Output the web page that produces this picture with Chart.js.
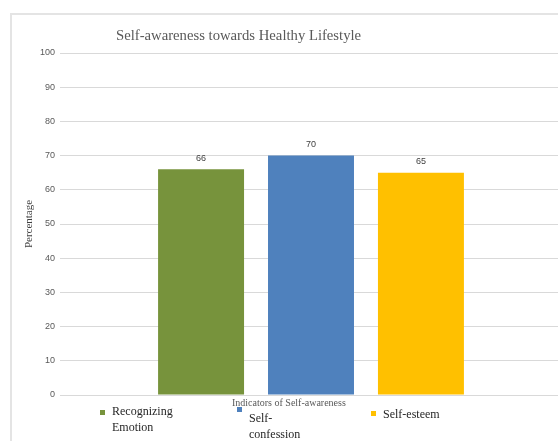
<!DOCTYPE html>
<html>
<head>
<meta charset="utf-8">
<script src="https://cdn.jsdelivr.net/npm/chart.js@4"></script>
<style>
  body { margin: 0; width: 558px; height: 441px; overflow: hidden; background: #fff; position: relative; }
  #frame { position: absolute; left: 10px; top: 13px; width: 560px; height: 440px; border-top: 2px solid #e4e4e4; border-left: 2px solid #e4e4e4; }
  #chart { position: absolute; left: 0; top: 0; }
  .txt { position: absolute; font-family: "Liberation Serif", serif; white-space: nowrap; }
  #title { left: 116px; top: 27px; font-size: 14.7px; color: #595959; }
  #xtitle { left: 232px; top: 397px; font-size: 10px; color: #595959; }
  .leg { position: absolute; font-family: "Liberation Serif", serif; font-size: 12px; color: #262626; line-height: 16px; }
  .leg span.box { position: absolute; width: 5px; height: 5px; left: 0; }
  .leg div.lbl { position: absolute; left: 12px; top: 0; white-space: nowrap; }
</style>
</head>
<body>
<div id="frame"></div>
<canvas id="chart" width="580" height="441"></canvas>
<div class="txt" id="title">Self-awareness towards Healthy Lifestyle</div>
<div class="txt" id="xtitle">Indicators of Self-awareness</div>
<div id="legend"></div>
<script>
// datos del gráfico
const categories = ['Recognizing Emotion', 'Self-confession', 'Self-esteem'];
const values = [66, 70, 65];
const yTicks = [0, 10, 20, 30, 40, 50, 60, 70, 80, 90, 100];
const barColors = ['#77933C', '#4F81BD', '#FFC000'];

// leyenda: posiciones de cada elemento (texto partido como en el original)
const legendLines = [['Recognizing', 'Emotion'], ['Self-', 'confession'], ['Self-esteem']];
const legendPos = [
  { x: 100, y: 403, boxY: 7 },
  { x: 237, y: 410, boxY: -3 },
  { x: 371, y: 406, boxY: 5 }
];
const legend = document.getElementById('legend');
categories.forEach((c, i) => {
  const item = document.createElement('div');
  item.className = 'leg';
  item.style.left = legendPos[i].x + 'px';
  item.style.top = legendPos[i].y + 'px';
  const box = document.createElement('span');
  box.className = 'box';
  box.style.background = barColors[i];
  box.style.top = legendPos[i].boxY + 'px';
  const lbl = document.createElement('div');
  lbl.className = 'lbl';
  lbl.innerHTML = legendLines[i].join('<br>');
  lbl.title = c;
  item.appendChild(box);
  item.appendChild(lbl);
  legend.appendChild(item);
});

// etiquetas de valor encima de las barras
const valueLabels = {
  id: 'valueLabels',
  afterDatasetsDraw(chart) {
    const ctx = chart.ctx;
    ctx.save();
    ctx.font = '9px "Liberation Sans", sans-serif';
    ctx.fillStyle = '#404040';
    ctx.textAlign = 'center';
    ctx.textBaseline = 'middle';
    chart.data.datasets.forEach((ds, i) => {
      chart.getDatasetMeta(i).data.forEach((bar, j) => {
        ctx.fillText(ds.data[j], bar.x, bar.y - 11);
      });
    });
    ctx.restore();
  }
};

const ctx = document.getElementById('chart').getContext('2d');
const myChart = new Chart(ctx, {
  type: 'bar',
  data: {
    labels: [''],
    datasets: categories.map((c, i) => ({
      label: c,
      data: [values[i]],
      backgroundColor: barColors[i],
      borderWidth: 0
    }))
  },
  options: {
    responsive: false,
    animation: false,
    events: [],
    categoryPercentage: 0.657,
    barPercentage: 0.782,
    layout: { padding: { left: 18, top: 53, right: 18, bottom: 46 } },
    plugins: {
      legend: { display: false },
      title: { display: false },
      tooltip: { enabled: false }
    },
    scales: {
      x: { display: false },
      y: {
        min: yTicks[0],
        max: yTicks[yTicks.length - 1],
        afterFit(scale) { scale.width = 42; },
        afterBuildTicks(scale) { scale.ticks = yTicks.map(v => ({ value: v })); },
        ticks: {
          padding: 5,
          color: '#595959',
          font: { family: '"Liberation Sans", sans-serif', size: 9 }
        },
        grid: { color: '#d9d9d9', lineWidth: 1, drawTicks: false },
        border: { display: false },
        title: {
          display: true,
          text: 'Percentage',
          color: '#404040',
          padding: { top: 5, bottom: 0 },
          font: { family: '"Liberation Serif", serif', size: 11 }
        }
      }
    }
  },
  plugins: [valueLabels]
});
</script>
</body>
</html>
